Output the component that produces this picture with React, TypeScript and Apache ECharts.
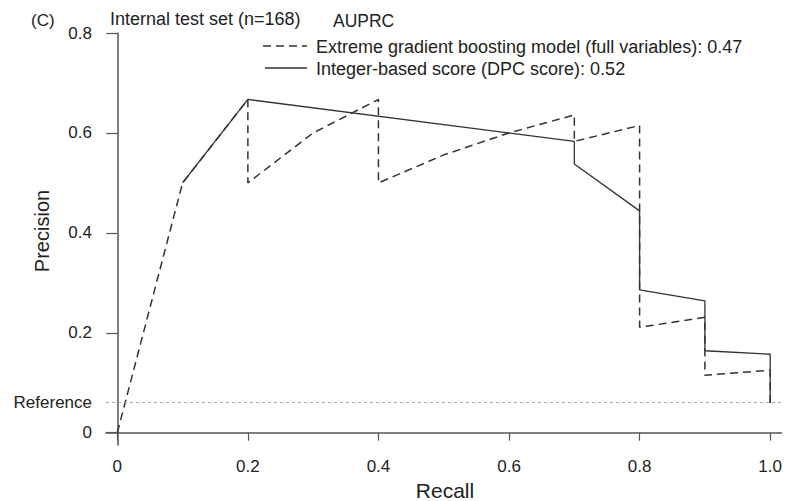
import React, { useEffect, useRef } from "react";
import * as echarts from "echarts";

const xgbRecall = [0, 0.1, 0.2, 0.2, 0.3, 0.4, 0.4, 0.5, 0.6, 0.7, 0.7, 0.8, 0.8, 0.9, 0.9, 1.0, 1.0];
const xgbPrecision = [0, 0.5, 0.667, 0.5, 0.6, 0.667, 0.5, 0.556, 0.6, 0.636, 0.583, 0.615, 0.211, 0.231, 0.115, 0.125, 0.0595];

const dpcRecall = [0.1, 0.2, 0.7, 0.7, 0.8, 0.8, 0.9, 0.9, 1.0, 1.0];
const dpcPrecision = [0.5, 0.667, 0.583, 0.538, 0.444, 0.286, 0.264, 0.164, 0.157, 0.0595];

const referencePrecision = 10 / 168;
const xTicks = [0, 0.2, 0.4, 0.6, 0.8, 1.0];
const yTicks = [0, 0.2, 0.4, 0.6, 0.8];

const xgbLabel = "Extreme gradient boosting model (full variables): 0.47";
const dpcLabel = "Integer-based score (DPC score): 0.52";

const FONT = "'Liberation Sans', Arial, sans-serif";
const TEXT = "#222";
const LINE = "#333";

export default function App() {
  const ref = useRef<HTMLDivElement>(null);
  useEffect(() => {
    if (!ref.current) return;
    const chart = echarts.init(ref.current, undefined, { renderer: "svg" });
    const xgbData = xgbRecall.map((r, i) => [r, xgbPrecision[i]]);
    const dpcData = dpcRecall.map((r, i) => [r, dpcPrecision[i]]);
    chart.setOption({
      animation: false,
      backgroundColor: "#fff",
      textStyle: { fontFamily: FONT },
      grid: { left: 106, right: 2, top: 33, bottom: 56 },
      xAxis: {
        type: "value",
        min: -0.0173,
        max: 1.0173,
        splitLine: { show: false },
        axisLine: { lineStyle: { color: "#555", width: 1.5 } },
        axisTick: { customValues: xTicks, length: 8, lineStyle: { color: "#555", width: 1.2 } },
        axisLabel: {
          customValues: xTicks,
          margin: 13,
          color: TEXT,
          fontSize: 17,
          fontFamily: FONT,
          formatter: (v: number) => (v === 0 ? "0" : v.toFixed(1)),
        },
      },
      yAxis: {
        type: "value",
        min: -0.0246,
        max: 0.8,
        splitLine: { show: false },
        axisLine: { lineStyle: { color: "#555", width: 1.5 } },
        axisTick: { customValues: yTicks, length: 11, lineStyle: { color: "#555", width: 1.2 } },
        axisLabel: {
          customValues: [...yTicks, referencePrecision],
          margin: 14,
          color: TEXT,
          fontSize: 17,
          fontFamily: FONT,
          formatter: (v: number) =>
            Math.abs(v - referencePrecision) < 1e-6 ? "Reference" : v === 0 ? "0" : v.toFixed(1),
        },
      },
      series: [
        {
          name: xgbLabel,
          type: "line",
          data: xgbData,
          showSymbol: false,
          lineStyle: { color: LINE, width: 1.5, type: [8, 5] },
          markLine: {
            silent: true,
            symbol: "none",
            label: { show: false },
            lineStyle: { color: "#aaa", width: 1, type: [3, 3] },
            data: [{ yAxis: referencePrecision }],
          },
          z: 3,
        },
        {
          name: dpcLabel,
          type: "line",
          data: dpcData,
          showSymbol: false,
          lineStyle: { color: LINE, width: 1.3, type: "solid" },
          z: 2,
        },
      ],
      graphic: [
        { type: "text", x: 31, y: 20, style: { text: "(C)", fill: TEXT, font: `17px ${FONT}`, verticalAlign: "middle" } },
        { type: "text", x: 110, y: 19, style: { text: "Internal test set (n=168)", fill: TEXT, font: `18px ${FONT}`, verticalAlign: "middle" } },
        { type: "text", x: 333, y: 21, style: { text: "AUPRC", fill: TEXT, font: `17.5px ${FONT}`, verticalAlign: "middle" } },
        {
          type: "line",
          shape: { x1: 263, y1: 46, x2: 307, y2: 46 },
          style: { stroke: LINE, lineWidth: 1.5, lineDash: [8, 5] },
        },
        { type: "text", x: 316, y: 47, style: { text: xgbLabel, fill: TEXT, font: `18px ${FONT}`, verticalAlign: "middle" } },
        {
          type: "line",
          shape: { x1: 265, y1: 68, x2: 307, y2: 68 },
          style: { stroke: LINE, lineWidth: 1.3 },
        },
        { type: "text", x: 316, y: 69, style: { text: dpcLabel, fill: TEXT, font: `18px ${FONT}`, verticalAlign: "middle" } },
        {
          type: "text",
          x: 445,
          y: 490,
          style: { text: "Recall", fill: TEXT, font: `21px ${FONT}`, align: "center", verticalAlign: "middle" },
        },
        {
          type: "text",
          x: 42,
          y: 231,
          rotation: Math.PI / 2,
          style: { text: "Precision", fill: TEXT, font: `20px ${FONT}`, align: "center", verticalAlign: "middle" },
        },
      ],
    });
    return () => chart.dispose();
  }, []);
  return <div ref={ref} style={{ width: 785, height: 501, position: "absolute", left: 0, top: 0 }} />;
}
